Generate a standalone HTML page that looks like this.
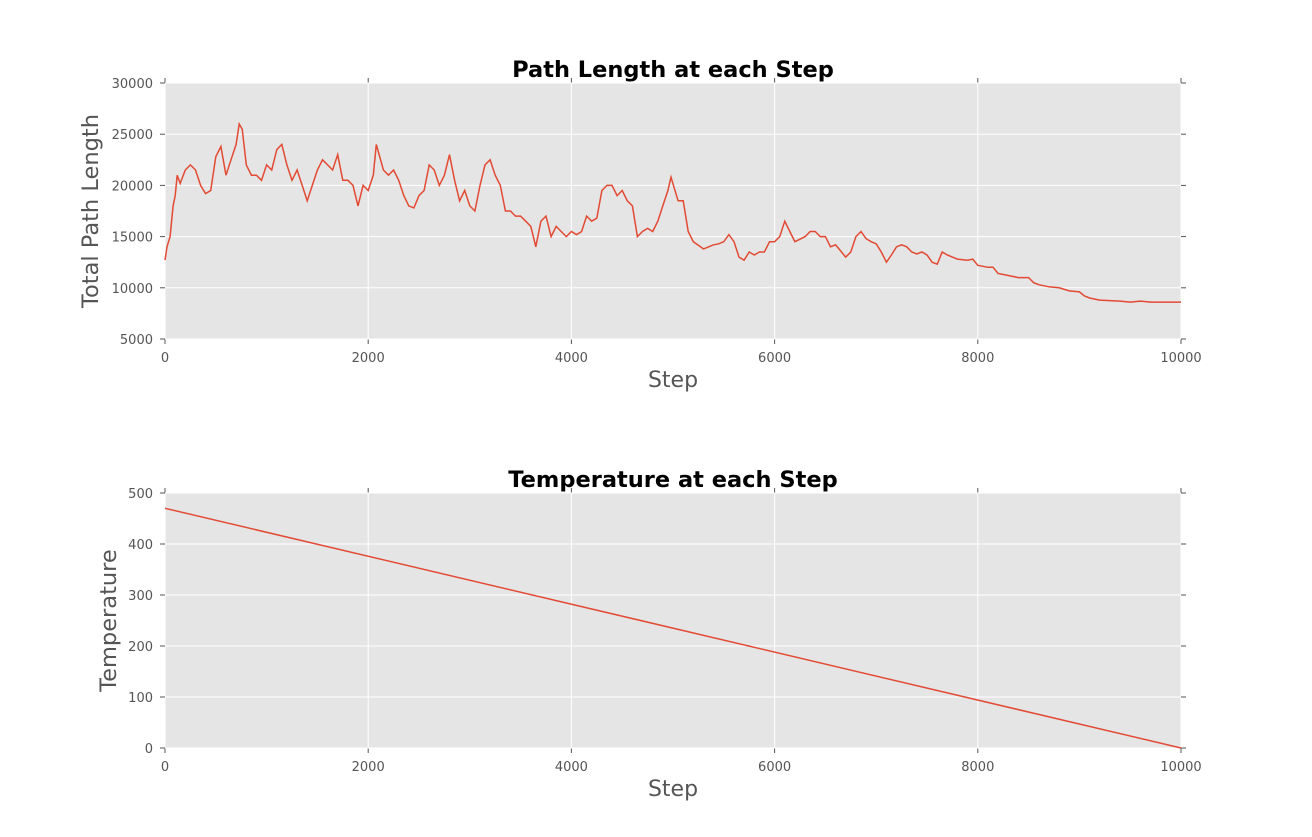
<!DOCTYPE html>
<html><head><meta charset="utf-8"><style>
body{margin:0;background:#fff;}
svg text{font-family:"DejaVu Sans","Liberation Sans",sans-serif;}
</style></head><body>
<svg id="chart" width="1312" height="832" xmlns="http://www.w3.org/2000/svg"></svg>
<script>
const pathSteps=[0,20,50,80,100,120,150,200,250,300,350,400,450,500,550,600,650,700,730,760,800,850,900,950,1000,1050,1100,1150,1200,1250,1300,1350,1400,1450,1500,1550,1600,1650,1700,1750,1800,1850,1900,1950,2000,2050,2080,2150,2200,2250,2300,2350,2400,2450,2500,2550,2600,2650,2700,2750,2800,2850,2900,2950,3000,3050,3100,3150,3200,3250,3300,3350,3400,3450,3500,3550,3600,3650,3700,3750,3800,3850,3900,3950,4000,4050,4100,4150,4200,4250,4300,4350,4400,4450,4500,4550,4600,4650,4700,4750,4800,4850,4900,4950,4980,5050,5100,5150,5200,5300,5400,5450,5500,5550,5600,5650,5700,5750,5800,5850,5900,5950,6000,6050,6100,6150,6200,6300,6350,6400,6450,6500,6550,6600,6700,6750,6800,6850,6900,6950,7000,7050,7100,7150,7200,7250,7300,7350,7400,7450,7500,7550,7600,7650,7700,7750,7800,7900,7950,8000,8100,8150,8200,8300,8400,8500,8550,8600,8700,8800,8900,9000,9050,9100,9200,9300,9400,9500,9600,9700,10000];
const pathLengths=[12700,14000,15000,18000,19000,21000,20200,21500,22000,21500,20000,19200,19500,22800,23800,21000,22500,24000,26000,25500,22000,21000,21000,20500,22000,21500,23500,24000,22000,20500,21500,20000,18500,20000,21500,22500,22000,21500,23000,20500,20500,20000,18000,20000,19500,21000,24000,21500,21000,21500,20500,19000,18000,17800,19000,19500,22000,21500,20000,21000,23000,20500,18500,19500,18000,17500,20000,22000,22500,21000,20000,17500,17500,17000,17000,16500,16000,14000,16500,17000,15000,16000,15500,15000,15500,15200,15500,17000,16500,16800,19500,20000,20000,19000,19500,18500,18000,15000,15500,15800,15500,16500,18000,19500,20800,18500,18500,15500,14500,13800,14200,14300,14500,15200,14500,13000,12700,13500,13200,13500,13500,14500,14500,15000,16500,15500,14500,15000,15500,15500,15000,15000,14000,14200,13000,13500,15000,15500,14800,14500,14300,13500,12500,13200,14000,14200,14000,13500,13300,13500,13200,12500,12300,13500,13200,13000,12800,12700,12800,12200,12000,12000,11400,11200,11000,11000,10500,10300,10100,10000,9700,9600,9200,9000,8800,8750,8700,8600,8700,8600,8600];
const tempSteps=[0,10000];
const tempValues=[470,0];
const xTicks=[0,2000,4000,6000,8000,10000];
const y1Ticks=[5000,10000,15000,20000,25000,30000];
const y2Ticks=[0,100,200,300,400,500];

const NS="http://www.w3.org/2000/svg";
const svg=document.getElementById('chart');
function mk(tag,attrs,parent){const e=document.createElementNS(NS,tag);for(const k in attrs)e.setAttribute(k,attrs[k]);(parent||svg).appendChild(e);return e;}
const L=165,R=1181;
function xS(v){return L+(v/10000)*(R-L);}

function panel(top,bot,ymin,ymax,yTicks,xs,ys,title,ylabel,name){
  const g=mk('g',{});
  
  
  const yS=v=>bot-(v-ymin)/(ymax-ymin)*(bot-top);
  const bg=mk('rect',{x:L,y:top,width:R-L,height:bot-top,fill:'#e5e5e5'},g);
  
  
  xTicks.forEach(t=>{
    const x=xS(t);
    mk('line',{x1:x,x2:x,y1:top,y2:bot,stroke:'#fff','stroke-width':1},g);
    mk('line',{x1:x,x2:x,y1:bot,y2:bot+5,stroke:'#555'},g);
    mk('line',{x1:x,x2:x,y1:top,y2:top-5,stroke:'#555'},g);
    const tx=mk('text',{x:x,y:bot+23,'text-anchor':'middle','font-size':13,fill:'#555'},g);
    tx.textContent=t;
    
    
  });
  yTicks.forEach(t=>{
    const y=yS(t);
    mk('line',{x1:L,x2:R,y1:y,y2:y,stroke:'#fff','stroke-width':1},g);
    mk('line',{x1:L-5,x2:L,y1:y,y2:y,stroke:'#555'},g);
    mk('line',{x1:R,x2:R+5,y1:y,y2:y,stroke:'#555'},g);
    const tx=mk('text',{x:L-12,y:y+5,'text-anchor':'end','font-size':13,fill:'#555'},g);
    tx.textContent=t;
    
    
  });
  const pts=xs.map((s,i)=>xS(s).toFixed(1)+','+yS(ys[i]).toFixed(1)).join(' ');
  const pl=mk('polyline',{points:pts,fill:'none',stroke:'#e24a33','stroke-width':1.5},g);
  
  
  const t=mk('text',{x:(L+R)/2,y:top-6,'text-anchor':'middle','font-size':22.5,'font-weight':'bold',fill:'#000'},g);
  t.textContent=title;
  
  
  const xl=mk('text',{x:(L+R)/2,y:bot+48,'text-anchor':'middle','font-size':22,fill:'#555'},g);
  xl.textContent='Step';
  
  
  const cy=(top+bot)/2;
  const yl=mk('text',{x:0,y:0,'text-anchor':'middle','font-size':22.5,fill:'#555',transform:`translate(${ylabel.x},${cy}) rotate(-90)`},g);
  yl.textContent=ylabel.t;
  
  
}
panel(83,339,5000,30000,y1Ticks,pathSteps,pathLengths,'Path Length at each Step',{t:'Total Path Length',x:98},'path-length');
panel(493,748,0,500,y2Ticks,tempSteps,tempValues,'Temperature at each Step',{t:'Temperature',x:116},'temperature');
</script>
</body></html>
